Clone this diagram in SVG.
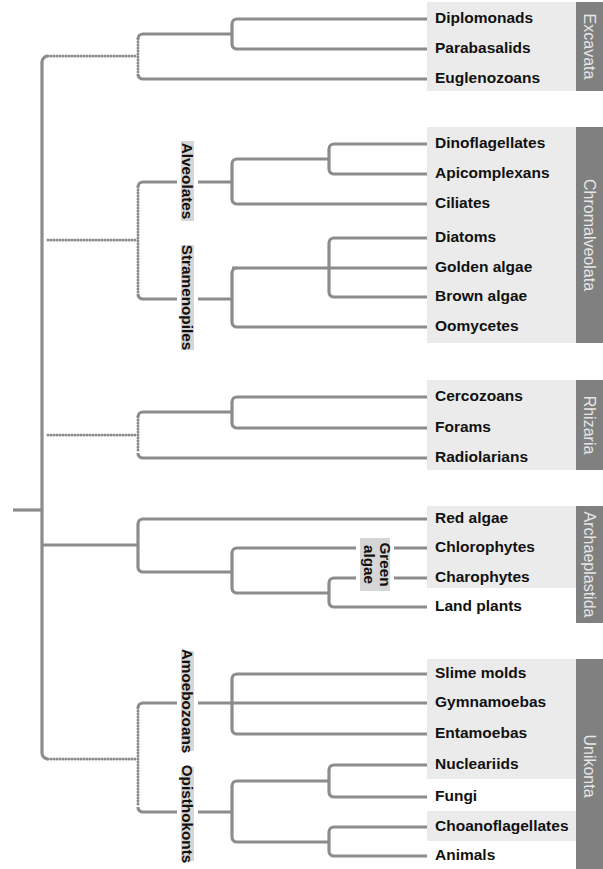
<svg xmlns="http://www.w3.org/2000/svg" width="603" height="869" viewBox="0 0 603 869">
<style>
.bg{fill:#ebebeb}
.bar{fill:#808080}
.lab{fill:#d6d6d6;stroke:#fff;stroke-width:4}
.ln{fill:none;stroke:#8c8c8c;stroke-width:3.2}
.dot{fill:none;stroke:#8c8c8c;stroke-width:3;stroke-dasharray:0 3;stroke-linecap:round}
.leaf{font-family:"Liberation Sans",Arial,sans-serif;font-weight:bold;font-size:15.5px;fill:#111}
.grp{font-family:"Liberation Sans",Arial,sans-serif;font-size:16px;fill:#e6e6e6;text-anchor:middle}
.sub{font-family:"Liberation Sans",Arial,sans-serif;font-weight:bold;font-size:15.3px;fill:#111;text-anchor:middle}
</style>
<g id="backgrounds">
<rect class="bg" x="427" y="2" width="149" height="89"/>
<rect class="bg" x="427" y="127" width="149" height="216"/>
<rect class="bg" x="427" y="380" width="149" height="90"/>
<rect class="bg" x="427" y="506" width="149" height="82"/>
<rect class="bg" x="427" y="659" width="149" height="120"/>
<rect class="bg" x="427" y="811" width="149" height="30"/>
</g>
<g id="connectors">
<path class="ln" d="M13,510 H42"/>
<path class="ln" d="M48,56 A6,6 0 0 0 42,62 V753 A6,6 0 0 0 48,759"/>
<path class="dot" d="M48,56 H138 M48,240 H138 M48,435 H138 M48,759 H138"/>
<path class="ln" d="M42,545 H138"/>
<!-- Excavata -->
<path class="dot" d="M138,39 V74"/>
<path class="ln" d="M232,34 H143 A5,5 0 0 0 138,39"/>
<path class="ln" d="M138,74 A5,5 0 0 0 143,79 H427"/>
<path class="ln" d="M427,19 H237 A5,5 0 0 0 232,24 V44 A5,5 0 0 0 237,49 H427"/>
<!-- Chromalveolata -->
<path class="dot" d="M138,187 V294"/>
<path class="ln" d="M232,182 H143 A5,5 0 0 0 138,187"/>
<path class="ln" d="M138,294 A5,5 0 0 0 143,299 H232"/>
<path class="ln" d="M329,159 H237 A5,5 0 0 0 232,164 V199 A5,5 0 0 0 237,204 H427"/>
<path class="ln" d="M427,144 H334 A5,5 0 0 0 329,149 V169 A5,5 0 0 0 334,174 H427"/>
<path class="ln" d="M232,268 H427"/>
<path class="ln" d="M427,238 H334 A5,5 0 0 0 329,243 V292 A5,5 0 0 0 334,297 H427"/>
<path class="ln" d="M237,268 A5,5 0 0 0 232,273 V322 A5,5 0 0 0 237,327 H427"/>
<!-- Rhizaria -->
<path class="dot" d="M138,417 V453"/>
<path class="ln" d="M232,412 H143 A5,5 0 0 0 138,417"/>
<path class="ln" d="M138,453 A5,5 0 0 0 143,458 H427"/>
<path class="ln" d="M427,397 H237 A5,5 0 0 0 232,402 V423 A5,5 0 0 0 237,428 H427"/>
<!-- Archaeplastida -->
<path class="ln" d="M427,519 H143 A5,5 0 0 0 138,524 V567 A5,5 0 0 0 143,572 H232"/>
<path class="ln" d="M427,548 H237 A5,5 0 0 0 232,553 V588 A5,5 0 0 0 237,593 H329"/>
<path class="ln" d="M427,578 H334 A5,5 0 0 0 329,583 V602 A5,5 0 0 0 334,607 H427"/>
<!-- Unikonta -->
<path class="dot" d="M138,708 V807"/>
<path class="ln" d="M427,703 H143 A5,5 0 0 0 138,708"/>
<path class="ln" d="M138,807 A5,5 0 0 0 143,812 H232"/>
<path class="ln" d="M427,674 H237 A5,5 0 0 0 232,679 V729 A5,5 0 0 0 237,734 H427"/>
<path class="ln" d="M329,781 H237 A5,5 0 0 0 232,786 V837 A5,5 0 0 0 237,842 H329"/>
<path class="ln" d="M427,765 H334 A5,5 0 0 0 329,770 V792 A5,5 0 0 0 334,797 H427"/>
<path class="ln" d="M427,827 H334 A5,5 0 0 0 329,832 V851 A5,5 0 0 0 334,856 H427"/>
</g>
<g id="clade-labels">
<g id="alveolates"><rect class="lab" x="179" y="139" width="17" height="84"/><text class="sub" transform="translate(187.5,181) rotate(90)" y="5.4">Alveolates</text></g>
<g id="stramenopiles"><rect class="lab" x="179" y="243" width="17" height="109"/><text class="sub" transform="translate(187.5,297.5) rotate(90)" y="5.4">Stramenopiles</text></g>
<g id="amoebozoans"><rect class="lab" x="179" y="649" width="17" height="104"/><text class="sub" transform="translate(187.5,701) rotate(90)" y="5.4">Amoebozoans</text></g>
<g id="opisthokonts"><rect class="lab" x="179" y="765" width="17" height="98"/><text class="sub" transform="translate(187.5,814) rotate(90)" y="5.4">Opisthokonts</text></g>
<g id="green-algae"><rect class="lab" x="358" y="536" width="34" height="57"/><text class="sub" transform="translate(375,564.5) rotate(90)"><tspan x="0" y="-4.5">Green</tspan><tspan x="0" y="11.5">algae</tspan></text></g>
</g>
<g id="excavata">
<rect class="bar" x="576" y="2" width="27" height="89"/>
<text class="grp" transform="translate(589.5,46.5) rotate(90)" y="5.7">Excavata</text>
<text class="leaf" x="435" y="22.5">Diplomonads</text>
<text class="leaf" x="435" y="52.5">Parabasalids</text>
<text class="leaf" x="435" y="82.5">Euglenozoans</text>
</g>
<g id="chromalveolata">
<rect class="bar" x="576" y="127" width="27" height="216"/>
<text class="grp" transform="translate(589.5,235) rotate(90)" y="5.7">Chromalveolata</text>
<text class="leaf" x="435" y="147.5">Dinoflagellates</text>
<text class="leaf" x="435" y="177.5">Apicomplexans</text>
<text class="leaf" x="435" y="207.5">Ciliates</text>
<text class="leaf" x="435" y="241.5">Diatoms</text>
<text class="leaf" x="435" y="271.5">Golden algae</text>
<text class="leaf" x="435" y="300.5">Brown algae</text>
<text class="leaf" x="435" y="330.5">Oomycetes</text>
</g>
<g id="rhizaria">
<rect class="bar" x="576" y="380" width="27" height="90"/>
<text class="grp" transform="translate(589.5,425) rotate(90)" y="5.7">Rhizaria</text>
<text class="leaf" x="435" y="400.5">Cercozoans</text>
<text class="leaf" x="435" y="431.5">Forams</text>
<text class="leaf" x="435" y="461.5">Radiolarians</text>
</g>
<g id="archaeplastida">
<rect class="bar" x="576" y="506" width="27" height="117"/>
<text class="grp" transform="translate(589.5,564.5) rotate(90)" y="5.7">Archaeplastida</text>
<text class="leaf" x="435" y="522.5">Red algae</text>
<text class="leaf" x="435" y="551.5">Chlorophytes</text>
<text class="leaf" x="435" y="581.5">Charophytes</text>
<text class="leaf" x="435" y="610.5">Land plants</text>
</g>
<g id="unikonta">
<rect class="bar" x="576" y="659" width="27" height="210"/>
<text class="grp" transform="translate(589.5,766) rotate(90)" y="5.7">Unikonta</text>
<text class="leaf" x="435" y="677.5">Slime molds</text>
<text class="leaf" x="435" y="706.5">Gymnamoebas</text>
<text class="leaf" x="435" y="737.5">Entamoebas</text>
<text class="leaf" x="435" y="768.5">Nucleariids</text>
<text class="leaf" x="435" y="800.5">Fungi</text>
<text class="leaf" x="435" y="830.5">Choanoflagellates</text>
<text class="leaf" x="435" y="859.5">Animals</text>
</g>
</svg>
